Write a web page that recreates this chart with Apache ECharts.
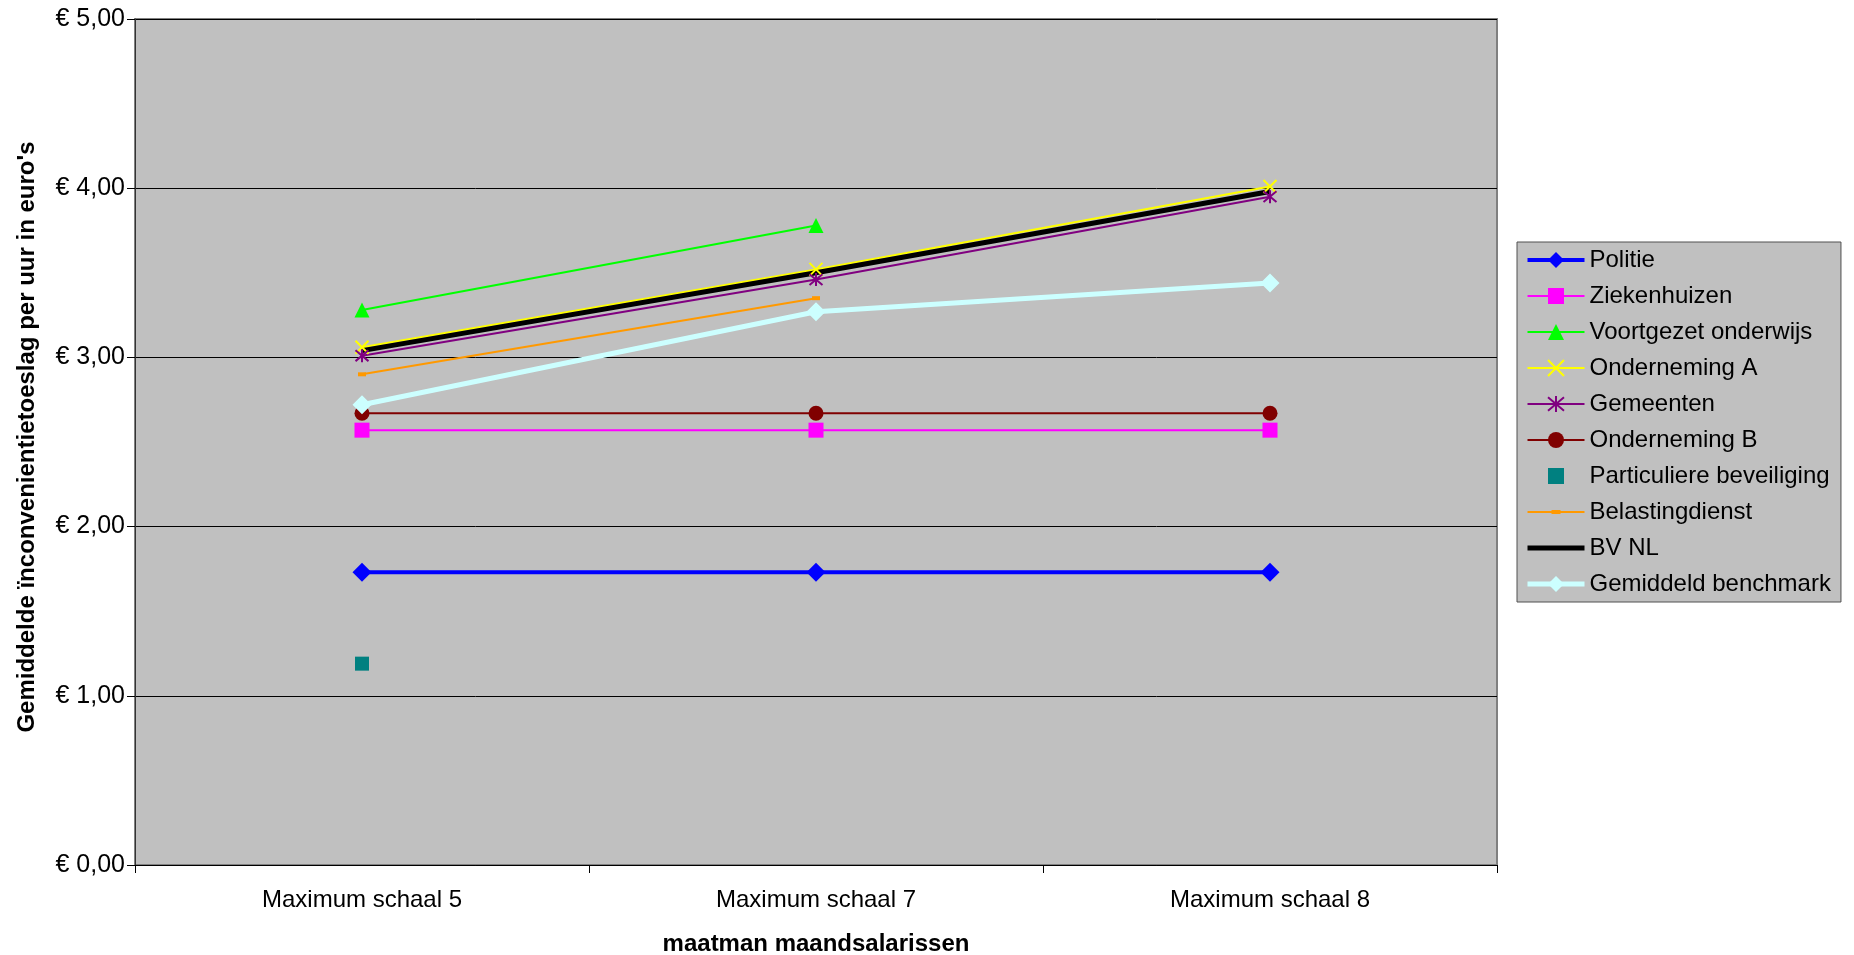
<!DOCTYPE html>
<html>
<head>
<meta charset="utf-8">
<script src="https://cdn.jsdelivr.net/npm/echarts@6/dist/echarts.min.js"></script>
<style>
html,body{margin:0;padding:0;background:#fff;}
#c{width:1854px;height:955px;}
</style>
</head>
<body>
<div id="c"></div>
<script>
var categories = ['Maximum schaal 5', 'Maximum schaal 7', 'Maximum schaal 8'];
var politie = [1.73, 1.73, 1.73];
var ziekenhuizen = [2.57, 2.57, 2.57];
var voortgezetOnderwijs = [3.28, 3.78, null];
var ondernemingA = [3.06, 3.52, 4.01];
var gemeenten = [3.01, 3.46, 3.95];
var ondernemingB = [2.67, 2.67, 2.67];
var particuliereBeveiliging = [1.19, null, null];
var belastingdienst = [2.90, 3.35, null];
var bvNL = [3.04, 3.50, 3.98];
var gemiddeldBenchmark = [2.72, 3.27, 3.44];
var yTicks = [0, 1, 2, 3, 4, 5];

var FONT = '"Liberation Sans", Arial, sans-serif';
var chart = echarts.init(document.getElementById('c'), null, {renderer: 'canvas'});

function line(name, data, color, width, symbol, size, extra) {
  var s = {
    name: name, type: 'line', data: data,
    lineStyle: {color: color, width: width},
    itemStyle: {color: color},
    symbol: symbol || 'none', symbolSize: size || 0,
    showSymbol: !!symbol,
    connectNulls: false
  };
  if (extra) for (var k in extra) s[k] = extra[k];
  return s;
}

var xSym = 'path://M0,0L10,10M10,0L0,10';
var starSym = 'path://M0,0L10,10M10,0L0,10M5,-1L5,11';
// legend icon for Belastingdienst: thin line with a small dash marker, in a 57x20 box
var belIcon = 'path://M0,0L0.01,0L0,0.01Z M57,20L56.99,20L57,19.99Z M0,9L57,9L57,11L0,11Z M24,8L33,8L33,12L24,12Z';

var option = {
  animation: false,
  textStyle: {fontFamily: FONT},
  grid: {left: 135, top: 19, width: 1362, height: 846, show: true,
    outerBoundsMode: 'none',
    backgroundColor: '#C0C0C0', borderColor: '#808080', borderWidth: 2, containLabel: false},
  legend: {
    orient: 'vertical', left: 1517, top: 242, width: 310,
    backgroundColor: '#C0C0C0', borderColor: '#505050', borderWidth: 1,
    padding: [6, 10, 6, 8], itemWidth: 57, itemHeight: 20, itemGap: 12,
    textStyle: {fontFamily: FONT, fontSize: 24, color: '#000', padding: [0, 0, 0, 0]},
    data: [
      {name: 'Politie', lineStyle: {width: 4}},
      {name: 'Ziekenhuizen', lineStyle: {width: 2}},
      {name: 'Voortgezet onderwijs', lineStyle: {width: 2}},
      {name: 'Onderneming A', lineStyle: {width: 2}},
      {name: 'Gemeenten', lineStyle: {width: 2}},
      {name: 'Onderneming B', lineStyle: {width: 2}},
      {name: 'Particuliere beveiliging'},
      {name: 'Belastingdienst', icon: belIcon, itemStyle: {color: '#FF9900'}},
      {name: 'BV NL', lineStyle: {width: 5}, itemStyle: {color: 'rgba(0,0,0,0)', borderWidth: 0}},
      {name: 'Gemiddeld benchmark', lineStyle: {width: 5}}
    ]
  },
  xAxis: {
    type: 'category', data: categories, boundaryGap: true,
    name: 'maatman maandsalarissen', nameLocation: 'middle', nameGap: 67,
    nameTextStyle: {fontFamily: FONT, fontSize: 24, fontWeight: 'bold', color: '#000'},
    axisLine: {show: true, lineStyle: {color: '#000', width: 1}},
    axisTick: {show: true, alignWithLabel: false, length: 8, lineStyle: {color: '#000'}},
    axisLabel: {fontFamily: FONT, fontSize: 24, color: '#000', margin: 23},
    splitLine: {show: false}
  },
  yAxis: {
    type: 'value', min: 0, max: 5, interval: 1,
    name: 'Gemiddelde ïnconvenientietoeslag per uur in euro\'s', nameLocation: 'middle', nameGap: 96,
    nameTextStyle: {fontFamily: FONT, fontSize: 24, fontWeight: 'bold', color: '#000', padding: [0, 0, 0, 10]},
    axisLine: {show: true, lineStyle: {color: '#333', width: 1}},
    axisTick: {show: true, length: 8, lineStyle: {color: '#000'}},
    axisLabel: {fontFamily: FONT, fontSize: 25, color: '#000', margin: 10,
      formatter: function (v) { return '€ ' + v.toFixed(2).replace('.', ','); }},
    splitLine: {show: true, lineStyle: {color: '#000', width: 1}}
  },
  series: [
    line('Politie', politie, '#0000FF', 4, 'diamond', 19),
    line('Ziekenhuizen', ziekenhuizen, '#FF00FF', 2, 'rect', 15),
    line('Voortgezet onderwijs', voortgezetOnderwijs, '#00FF00', 2, 'triangle', 15),
    line('Onderneming A', ondernemingA, '#FFFF00', 2, xSym, 13,
      {itemStyle: {color: 'rgba(0,0,0,0)', borderColor: '#FFFF00', borderWidth: 2}}),
    line('Gemeenten', gemeenten, '#800080', 2, starSym, 13,
      {itemStyle: {color: 'rgba(0,0,0,0)', borderColor: '#800080', borderWidth: 2}}),
    line('Onderneming B', ondernemingB, '#800000', 2, 'circle', 15),
    line('Particuliere beveiliging', particuliereBeveiliging, '#008080', 0, 'rect', 14,
      {lineStyle: {width: 0, color: '#008080', opacity: 0}}),
    line('Belastingdienst', belastingdienst, '#FF9900', 2, 'rect', [8, 4]),
    line('BV NL', bvNL, '#000000', 5, null, 0),
    line('Gemiddeld benchmark', gemiddeldBenchmark, '#CCFFFF', 5, 'diamond', 19)
  ]
};
chart.setOption(option);
</script>
</body>
</html>
